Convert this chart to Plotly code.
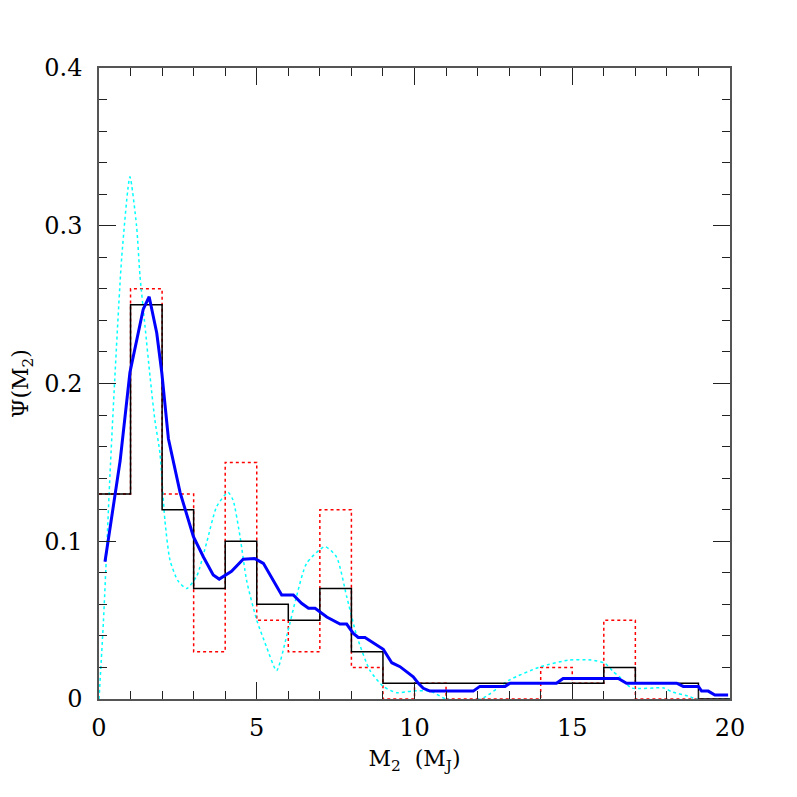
import plotly.graph_objects as go

# bin edges in M_J (width 1)
bin_edges = list(range(0, 21))

# histograms, one value per bin
black_hist = [0.13, 0.25, 0.12, 0.07, 0.10, 0.06, 0.05, 0.07, 0.03, 0.01,
              0.01, 0.01, 0.01, 0.01, 0.01, 0.01, 0.02, 0.01, 0.01, 0.0]
red_hist = [0.13, 0.26, 0.13, 0.03, 0.15, 0.05, 0.03, 0.12, 0.02, 0.0,
            0.01, 0.0, 0.0, 0.0, 0.02, 0.01, 0.05, 0.0, 0.0, 0.0]

# smoothed (cyan, dotted) curve
cyan_x = [0.0, 0.14, 0.24, 0.35, 0.5, 0.72, 0.98, 1.19, 1.30, 1.46, 1.62,
          1.77, 1.93, 2.09, 2.25, 2.50, 2.78, 3.10, 3.41, 3.73, 4.09, 4.25,
          4.47, 4.68, 5.0, 5.31, 5.63, 5.95, 6.26, 6.58, 7.16, 7.53, 7.85,
          8.17, 8.59, 9.01, 9.43, 9.9, 10.5, 11.0, 12.1, 13.0, 14.0, 14.9,
          15.6, 16.04, 16.3, 16.5, 16.88, 17.9, 18.15, 18.73, 18.9, 20.0]
cyan_y = [0.0, 0.049, 0.093, 0.143, 0.203, 0.28, 0.331, 0.30, 0.268, 0.236,
          0.204, 0.177, 0.156, 0.113, 0.088, 0.075, 0.070, 0.078, 0.099,
          0.122, 0.131, 0.126, 0.103, 0.075, 0.05, 0.033, 0.018, 0.04, 0.065,
          0.086, 0.0966, 0.09, 0.065, 0.04, 0.018, 0.008, 0.004, 0.005,
          0.005, 0.0, 0.0, 0.012, 0.0205, 0.0247, 0.0247, 0.0226, 0.0173,
          0.014, 0.007, 0.007, 0.0046, 0.0015, 0.0, 0.0]

# kernel estimate (blue, thick)
blue_x = [0.19, 0.67, 0.98, 1.40, 1.59, 1.83, 1.99, 2.20, 2.57, 2.99, 3.31,
          3.62, 3.81, 4.2, 4.57, 4.94, 5.21, 5.52, 5.79, 6.16, 6.42, 6.64,
          6.85, 7.22, 7.64, 7.85, 8.06, 8.22, 8.43, 9.01, 9.28, 9.54, 9.96,
          10.12, 10.28, 10.49, 11.86, 12.07, 12.87, 13.03, 14.5, 14.71,
          16.46, 16.72, 18.31, 18.52, 19.0, 19.1, 19.31, 19.52, 19.94]
blue_y = [0.087, 0.151, 0.207, 0.247, 0.255, 0.232, 0.207, 0.165, 0.131,
          0.103, 0.09, 0.0786, 0.076, 0.081, 0.0886, 0.089, 0.086, 0.075,
          0.066, 0.066, 0.0607, 0.0575, 0.0575, 0.052, 0.0475, 0.0475,
          0.0416, 0.039, 0.039, 0.0315, 0.023, 0.0205, 0.014, 0.010, 0.0068,
          0.005, 0.005, 0.008, 0.008, 0.010, 0.010, 0.013, 0.013, 0.010,
          0.010, 0.008, 0.008, 0.005, 0.005, 0.0025, 0.0025]

x_tick_vals = [0, 5, 10, 15, 20]
y_tick_vals = [0, 0.1, 0.2, 0.3, 0.4]
y_tick_text = ["0", "0.1", "0.2", "0.3", "0.4"]

FONT = "DejaVu Serif"


def hist_trace(values, color, dash, width):
    return go.Scatter(
        x=bin_edges,
        y=values + [values[-1]],
        mode="lines",
        line={"color": color, "dash": dash, "width": width, "shape": "hv"},
        showlegend=False,
        hoverinfo="skip"
    )


fig = go.Figure()

fig.add_trace(hist_trace(red_hist, "red", "dot", 1.5))
fig.add_trace(
    go.Scatter(
        x=cyan_x, y=cyan_y, mode="lines",
        line={"color": "cyan", "dash": "dot", "width": 1.5, "shape": "spline",
              "smoothing": 0.6},
        showlegend=False
    )
)
fig.add_trace(hist_trace(black_hist, "black", "solid", 1.5))
fig.add_trace(
    go.Scatter(
        x=blue_x, y=blue_y, mode="lines",
        line={"color": "blue", "width": 3},
        showlegend=False
    )
)

axis_common = dict(
    showgrid=False,
    zeroline=False,
    showline=True,
    linecolor="#555555",
    linewidth=1.5,
    mirror="ticks",
    ticks="inside",
    ticklen=17,
    tickwidth=1.2,
    tickcolor="#222222",
    tickfont={"family": FONT, "size": 24, "color": "black"},
)

fig.update_xaxes(
    range=[0, 20],
    tickvals=x_tick_vals,
    ticklabelstandoff=6,
    minor={"dtick": 1, "ticks": "inside", "ticklen": 8, "tickwidth": 1.2,
           "tickcolor": "#222222"},
    title={"text": "M<sub>2</sub>  (M<sub>J</sub>)",
           "font": {"family": FONT, "size": 22, "color": "black"},
           "standoff": 10},
    **axis_common
)
fig.update_yaxes(
    range=[0, 0.4],
    tickvals=y_tick_vals,
    ticktext=y_tick_text,
    ticklabelstandoff=10,
    minor={"dtick": 0.02, "ticks": "inside", "ticklen": 8, "tickwidth": 1.2,
           "tickcolor": "#222222"},
    title={"text": "\u03a8(M<sub>2</sub>)",
           "font": {"family": FONT, "size": 22, "color": "black"},
           "standoff": 10},
    **axis_common
)

# the page body adds an 8px margin, so the figure is made 8px smaller
fig.update_layout(
    width=789,
    height=789,
    margin={"l": 91, "r": 67, "t": 60, "b": 98},
    plot_bgcolor="white",
    paper_bgcolor="white",
)

fig.write_html("out.html")
